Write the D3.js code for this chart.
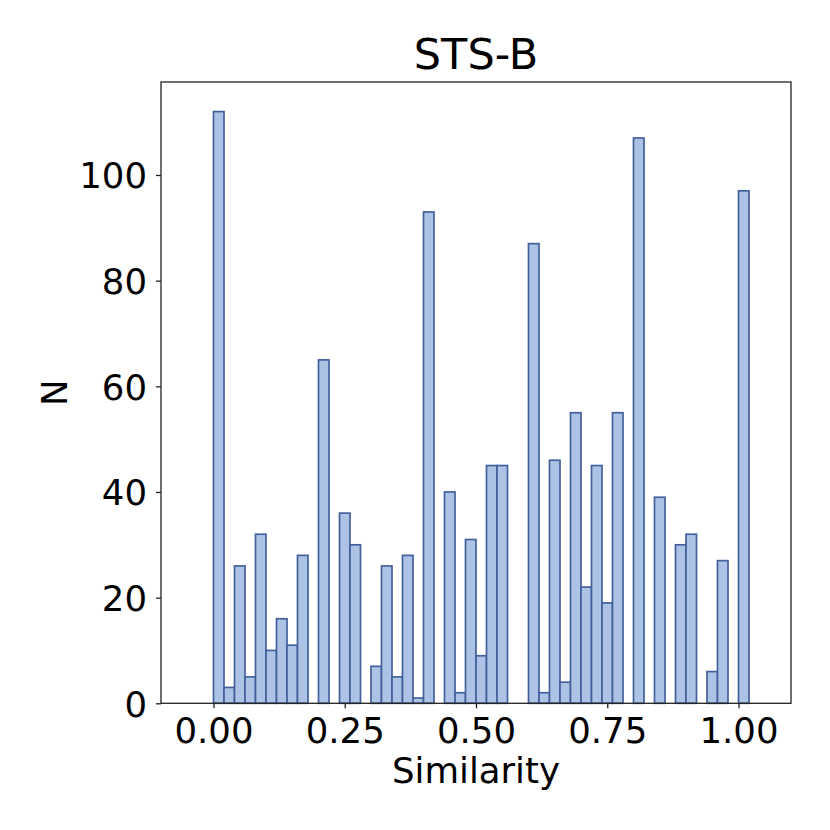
<!DOCTYPE html>
<html>
<head>
<meta charset="utf-8">
<script src="https://cdn.jsdelivr.net/npm/d3@7"></script>
<style>
  html, body { margin: 0; padding: 0; background: #fff; }
  svg { display: block; font-family: "DejaVu Sans", sans-serif; }
</style>
</head>
<body>
<svg id="chart" width="830" height="830"></svg>
<script>
// ---- data ----
const title = "STS-B";
const xLabel = "Similarity";
const yLabel = "N";
const binWidth = 0.02;
const binStarts = [0.00,0.02,0.04,0.06,0.08,0.10,0.12,0.14,0.16,0.18,
                   0.20,0.22,0.24,0.26,0.28,0.30,0.32,0.34,0.36,0.38,
                   0.40,0.42,0.44,0.46,0.48,0.50,0.52,0.54,0.56,0.58,
                   0.60,0.62,0.64,0.66,0.68,0.70,0.72,0.74,0.76,0.78,
                   0.80,0.82,0.84,0.86,0.88,0.90,0.92,0.94,0.96,0.98,1.00];
const counts = [112,3,26,5,32,10,16,11,28,0,
                65,0,36,30,0,7,26,5,28,1,
                93,0,40,2,31,9,45,45,0,0,
                87,2,46,4,55,22,45,19,55,0,
                107,0,39,0,30,32,0,6,27,0,97];
const xTicks = [0, 0.25, 0.5, 0.75, 1.0];
const yTicks = [0, 20, 40, 60, 80, 100];

// ---- layout ----
const svg = d3.select("#chart");
const L = 161, R = 791, T = 82, B = 703.3;
const fill = "#adc3e5", edge = "#42619c";

const x = d3.scaleLinear().domain([-0.1, 1.1]).range([L, R]);
const y = d3.scaleLinear().domain([0, d3.max(counts) * 1.05]).range([B, T]);

const bins = binStarts.map((s, i) => ({x0: s, x1: s + binWidth, n: counts[i]}));

svg.append("g")
  .selectAll("rect")
  .data(bins.filter(d => d.n > 0))
  .join("rect")
  .attr("x", d => x(d.x0))
  .attr("width", d => x(d.x1) - x(d.x0))
  .attr("y", d => y(d.n))
  .attr("height", d => y(0) - y(d.n))
  .attr("fill", fill)
  .attr("stroke", edge)
  .attr("stroke-width", 1.7);

// axes
const xAxis = svg.append("g")
  .attr("transform", `translate(0,${B})`)
  .call(d3.axisBottom(x).tickValues(xTicks).tickFormat(d3.format(".2f")).tickSize(5).tickPadding(10));
const yAxis = svg.append("g")
  .attr("transform", `translate(${L},0)`)
  .call(d3.axisLeft(y).tickValues(yTicks).tickFormat(d3.format("d")).tickSize(5).tickPadding(9));

[xAxis, yAxis].forEach(g => {
  g.select(".domain").remove();
  g.selectAll(".tick line").attr("stroke", "#222").attr("stroke-width", 1.3);
  g.selectAll(".tick text").attr("font-family", "DejaVu Sans").attr("font-size", 35.5).attr("fill", "#000");
});
xAxis.selectAll(".tick text").attr("dy", null).attr("y", 39.5);
yAxis.selectAll(".tick text").attr("dy", null).attr("dominant-baseline", null).attr("y", 12.7);

// frame
svg.append("rect")
  .attr("x", L).attr("y", T)
  .attr("width", R - L).attr("height", B - T)
  .attr("fill", "none").attr("stroke", "#222").attr("stroke-width", 1.3);

// labels
svg.append("text")
  .attr("x", (L + R) / 2).attr("y", 69.3)
  .attr("text-anchor", "middle").attr("font-size", 43).attr("fill", "#000")
  .text(title);
svg.append("text")
  .attr("x", (L + R) / 2).attr("y", 783.3)
  .attr("text-anchor", "middle").attr("font-size", 35.5).attr("fill", "#000")
  .text(xLabel);
svg.append("text")
  .attr("transform", `translate(66.7,${(T + B) / 2}) rotate(-90)`)
  .attr("text-anchor", "middle").attr("font-size", 35.5).attr("fill", "#000")
  .text(yLabel);
</script>
</body>
</html>
